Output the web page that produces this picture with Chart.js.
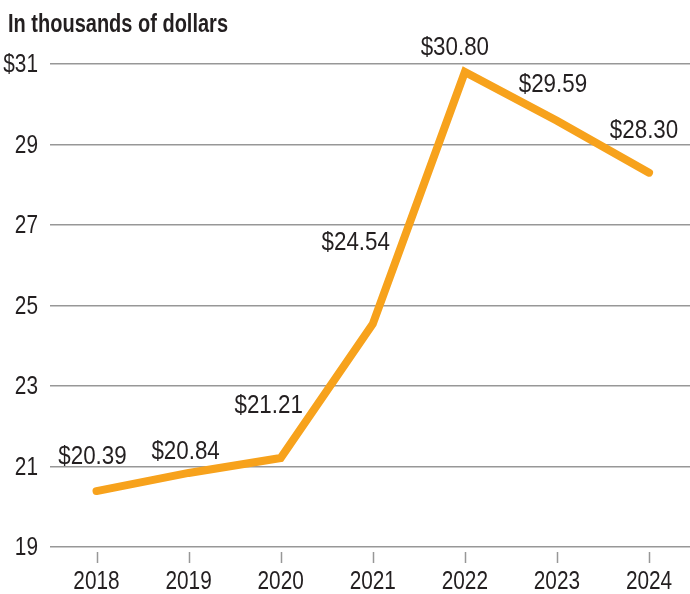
<!DOCTYPE html>
<html>
<head>
<meta charset="utf-8">
<script src="https://cdn.jsdelivr.net/npm/chart.js@4/dist/chart.umd.min.js"></script>
<style>
  body { margin: 0; background: #fff; }
  #wrap { width: 690px; height: 594px; }
</style>
</head>
<body>
<div id="wrap"><canvas id="salaryChart" width="690" height="594"></canvas></div>
<script>
// data
const years = [2018, 2019, 2020, 2021, 2022, 2023, 2024];
const values = [20.39, 20.84, 21.21, 24.54, 30.80, 29.59, 28.30];
const yTicks = [19, 21, 23, 25, 27, 29, 31];
const titleText = 'In thousands of dollars';

// label nudges (px) so the value labels sit like the original
const labelDx = [-4, -3, -12, -17, -10, -4, -5];
const labelDy = [-34, -21, -52, -81, -24, -36, -42];

const FONT = '"Liberation Sans", Arial, sans-serif';
const TEXT = '#231f20';
const GRID = '#979797';
const ORANGE = '#f7a21c';

// no condensed face installed, so squeeze a regular one horizontally
function narrowText(ctx, text, x, y, size, weight, align, sx) {
    ctx.save();
    ctx.font = weight + ' ' + size + 'px ' + FONT;
    ctx.textAlign = align;
    ctx.translate(x, y);
    ctx.scale(sx, 1);
    ctx.fillText(text, 0, 0);
    ctx.restore();
}

const textLayer = {
    id: 'textLayer',
    afterDraw(chart) {
        const ctx = chart.ctx;
        const xs = chart.scales.x;
        const ys = chart.scales.y;
        const area = chart.chartArea;
        ctx.save();
        ctx.fillStyle = TEXT;

        // title
        ctx.textBaseline = 'alphabetic';
        narrowText(ctx, titleText, 8, 32, 25, 'bold', 'left', 0.8);

        // y tick labels
        ctx.textBaseline = 'middle';
        yTicks.forEach(v => {
            const label = v === 31 ? '$' + v : String(v);
            narrowText(ctx, label, 38, ys.getPixelForValue(v) + 1, 26, 'normal', 'right', 0.8);
        });

        // x tick labels + little tick marks
        ctx.strokeStyle = GRID;
        ctx.lineWidth = 1.5;
        years.forEach(yr => {
            const px = xs.getPixelForValue(yr);
            narrowText(ctx, String(yr), px, 582, 26, 'normal', 'center', 0.8);
            const sx = Math.round(px) + 0.5;
            ctx.beginPath();
            ctx.moveTo(sx, area.bottom + 5);
            ctx.lineTo(sx, area.bottom + 16);
            ctx.stroke();
        });

        // value labels
        const meta = chart.getDatasetMeta(0);
        meta.data.forEach((pt, i) => {
            narrowText(ctx, '$' + values[i].toFixed(2), pt.x + labelDx[i], pt.y + labelDy[i],
                26, 'normal', 'center', 0.86);
        });
        ctx.restore();
    }
};

new Chart(document.getElementById('salaryChart').getContext('2d'), {
    type: 'line',
    data: {
        datasets: [{
            data: years.map((y, i) => ({ x: y, y: values[i] })),
            borderColor: ORANGE,
            borderWidth: 8,
            borderCapStyle: 'round',
            borderJoinStyle: 'miter',
            pointRadius: 0,
            tension: 0,
            clip: false
        }]
    },
    options: {
        responsive: false,
        animation: false,
        layout: { padding: { top: 64, right: 0, left: 0, bottom: 0 } },
        plugins: {
            legend: { display: false },
            tooltip: { enabled: false },
            title: { display: false }
        },
        scales: {
            x: {
                type: 'linear',
                min: 2017.495,
                max: 2024.445,
                grid: { display: false },
                border: { display: false },
                ticks: { display: false },
                afterFit: s => { s.height = 47; }
            },
            y: {
                min: 19,
                max: 31,
                afterBuildTicks: s => { s.ticks = yTicks.map(v => ({ value: v })); },
                grid: { color: GRID, lineWidth: 1.5, drawTicks: false },
                border: { display: false },
                ticks: { display: false },
                afterFit: s => { s.width = 50; }
            }
        }
    },
    plugins: [textLayer]
});
</script>
</body>
</html>
